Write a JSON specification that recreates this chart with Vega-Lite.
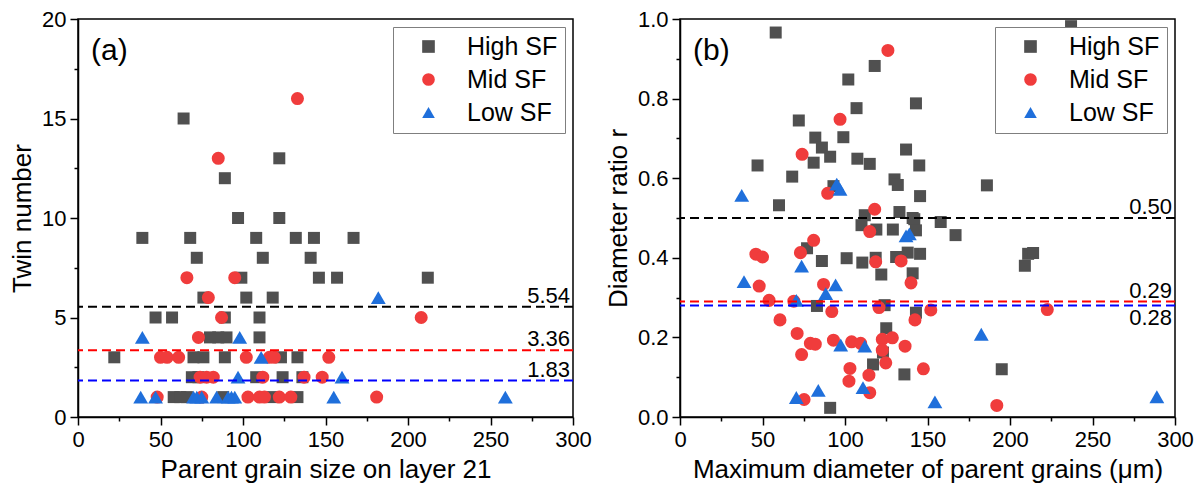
{
  "$schema": "https://vega.github.io/schema/vega-lite/v6.json",
  "padding": {"left": 8, "top": 7, "right": 5, "bottom": 0},
  "spacing": 11,
  "config": {
    "font": "Liberation Sans",
    "view": {"stroke": "black", "strokeWidth": 1.5},
    "axis": {"grid": false, "domainColor": "black", "domainWidth": 1.5, "tickColor": "black", "tickWidth": 1.5, "tickSize": 8, "labelColor": "black", "titleColor": "black", "labelFontSize": 22, "titleFontSize": 26, "titleFontWeight": "normal", "labelPadding": 4, "titlePadding": 6, "labelFont": "Liberation Sans", "titleFont": "Liberation Sans", "labelFlush": false, "labelOverlap": false},
    "legend": {"orient": "top-right", "offset": 8, "strokeColor": "#7f7f7f", "strokeWidth": 1, "fillColor": "white", "padding": 7, "labelFontSize": 25, "labelColor": "black", "labelFont": "Liberation Sans", "symbolSize": 160, "symbolOffset": 16, "labelOffset": 26, "rowPadding": 7, "symbolStrokeWidth": 0, "symbolOpacity": 1}
  },
  "datasets": {
    "a": [
      {"group": "High SF", "size": 64, "twin": 15}, {"group": "High SF", "size": 122, "twin": 13}, {"group": "High SF", "size": 89, "twin": 12}, {"group": "High SF", "size": 97, "twin": 10}, {"group": "High SF", "size": 122, "twin": 10},
      {"group": "High SF", "size": 39, "twin": 9}, {"group": "High SF", "size": 68, "twin": 9}, {"group": "High SF", "size": 108, "twin": 9}, {"group": "High SF", "size": 132, "twin": 9}, {"group": "High SF", "size": 143, "twin": 9}, {"group": "High SF", "size": 167, "twin": 9},
      {"group": "High SF", "size": 72, "twin": 8}, {"group": "High SF", "size": 112, "twin": 8}, {"group": "High SF", "size": 141, "twin": 8},
      {"group": "High SF", "size": 99, "twin": 7}, {"group": "High SF", "size": 146, "twin": 7}, {"group": "High SF", "size": 157, "twin": 7}, {"group": "High SF", "size": 212, "twin": 7},
      {"group": "High SF", "size": 76, "twin": 6}, {"group": "High SF", "size": 102, "twin": 6}, {"group": "High SF", "size": 118, "twin": 6},
      {"group": "High SF", "size": 47, "twin": 5}, {"group": "High SF", "size": 57, "twin": 5}, {"group": "High SF", "size": 89, "twin": 5}, {"group": "High SF", "size": 110, "twin": 5},
      {"group": "High SF", "size": 80, "twin": 4}, {"group": "High SF", "size": 85, "twin": 4}, {"group": "High SF", "size": 90, "twin": 4}, {"group": "High SF", "size": 110, "twin": 4},
      {"group": "High SF", "size": 22, "twin": 3}, {"group": "High SF", "size": 70, "twin": 3}, {"group": "High SF", "size": 76, "twin": 3}, {"group": "High SF", "size": 89, "twin": 3}, {"group": "High SF", "size": 123, "twin": 3}, {"group": "High SF", "size": 133, "twin": 3},
      {"group": "High SF", "size": 69, "twin": 2}, {"group": "High SF", "size": 73, "twin": 2}, {"group": "High SF", "size": 108, "twin": 2}, {"group": "High SF", "size": 124, "twin": 2}, {"group": "High SF", "size": 136, "twin": 2},
      {"group": "High SF", "size": 58, "twin": 1}, {"group": "High SF", "size": 62, "twin": 1}, {"group": "High SF", "size": 66, "twin": 1}, {"group": "High SF", "size": 88, "twin": 1}, {"group": "High SF", "size": 118, "twin": 1}, {"group": "High SF", "size": 133, "twin": 1},
      {"group": "Mid SF", "size": 133, "twin": 16}, {"group": "Mid SF", "size": 85, "twin": 13}, {"group": "Mid SF", "size": 66, "twin": 7}, {"group": "Mid SF", "size": 95, "twin": 7}, {"group": "Mid SF", "size": 79, "twin": 6}, {"group": "Mid SF", "size": 87, "twin": 5}, {"group": "Mid SF", "size": 208, "twin": 5}, {"group": "Mid SF", "size": 73, "twin": 4},
      {"group": "Mid SF", "size": 50, "twin": 3}, {"group": "Mid SF", "size": 54, "twin": 3}, {"group": "Mid SF", "size": 61, "twin": 3}, {"group": "Mid SF", "size": 102, "twin": 3}, {"group": "Mid SF", "size": 116, "twin": 3}, {"group": "Mid SF", "size": 119, "twin": 3}, {"group": "Mid SF", "size": 152, "twin": 3},
      {"group": "Mid SF", "size": 74, "twin": 2}, {"group": "Mid SF", "size": 78, "twin": 2}, {"group": "Mid SF", "size": 82, "twin": 2}, {"group": "Mid SF", "size": 112, "twin": 2}, {"group": "Mid SF", "size": 137, "twin": 2}, {"group": "Mid SF", "size": 148, "twin": 2},
      {"group": "Mid SF", "size": 48, "twin": 1}, {"group": "Mid SF", "size": 75, "twin": 1}, {"group": "Mid SF", "size": 103, "twin": 1}, {"group": "Mid SF", "size": 110, "twin": 1}, {"group": "Mid SF", "size": 113, "twin": 1}, {"group": "Mid SF", "size": 122, "twin": 1}, {"group": "Mid SF", "size": 129, "twin": 1}, {"group": "Mid SF", "size": 181, "twin": 1},
      {"group": "Low SF", "size": 182, "twin": 6}, {"group": "Low SF", "size": 39, "twin": 4}, {"group": "Low SF", "size": 98, "twin": 4}, {"group": "Low SF", "size": 111, "twin": 3}, {"group": "Low SF", "size": 97, "twin": 2}, {"group": "Low SF", "size": 160, "twin": 2},
      {"group": "Low SF", "size": 38, "twin": 1}, {"group": "Low SF", "size": 47, "twin": 1}, {"group": "Low SF", "size": 70, "twin": 1}, {"group": "Low SF", "size": 72, "twin": 1}, {"group": "Low SF", "size": 75, "twin": 1}, {"group": "Low SF", "size": 84, "twin": 1}, {"group": "Low SF", "size": 91, "twin": 1}, {"group": "Low SF", "size": 93, "twin": 1}, {"group": "Low SF", "size": 95, "twin": 1}, {"group": "Low SF", "size": 155, "twin": 1}, {"group": "Low SF", "size": 259, "twin": 1}
    ],
    "b": [
      {"group": "High SF", "dmax": 58, "ratio": 0.966}, {"group": "High SF", "dmax": 237, "ratio": 0.982}, {"group": "High SF", "dmax": 118, "ratio": 0.882}, {"group": "High SF", "dmax": 102, "ratio": 0.848}, {"group": "High SF", "dmax": 143, "ratio": 0.788}, {"group": "High SF", "dmax": 107, "ratio": 0.776}, {"group": "High SF", "dmax": 72, "ratio": 0.745}, {"group": "High SF", "dmax": 82, "ratio": 0.702}, {"group": "High SF", "dmax": 99, "ratio": 0.703}, {"group": "High SF", "dmax": 86, "ratio": 0.677}, {"group": "High SF", "dmax": 91, "ratio": 0.654}, {"group": "High SF", "dmax": 81, "ratio": 0.639}, {"group": "High SF", "dmax": 137, "ratio": 0.672}, {"group": "High SF", "dmax": 107.5, "ratio": 0.649}, {"group": "High SF", "dmax": 115, "ratio": 0.636}, {"group": "High SF", "dmax": 145, "ratio": 0.632}, {"group": "High SF", "dmax": 47, "ratio": 0.632}, {"group": "High SF", "dmax": 68, "ratio": 0.604}, {"group": "High SF", "dmax": 130, "ratio": 0.597}, {"group": "High SF", "dmax": 132, "ratio": 0.583}, {"group": "High SF", "dmax": 145.5, "ratio": 0.555}, {"group": "High SF", "dmax": 93, "ratio": 0.58}, {"group": "High SF", "dmax": 60, "ratio": 0.532}, {"group": "High SF", "dmax": 112, "ratio": 0.507}, {"group": "High SF", "dmax": 133, "ratio": 0.515}, {"group": "High SF", "dmax": 141, "ratio": 0.5}, {"group": "High SF", "dmax": 158, "ratio": 0.49}, {"group": "High SF", "dmax": 186, "ratio": 0.582}, {"group": "High SF", "dmax": 142, "ratio": 0.497}, {"group": "High SF", "dmax": 110, "ratio": 0.482}, {"group": "High SF", "dmax": 119, "ratio": 0.471}, {"group": "High SF", "dmax": 129, "ratio": 0.471}, {"group": "High SF", "dmax": 143, "ratio": 0.469}, {"group": "High SF", "dmax": 167, "ratio": 0.457}, {"group": "High SF", "dmax": 77, "ratio": 0.424}, {"group": "High SF", "dmax": 86, "ratio": 0.392}, {"group": "High SF", "dmax": 101, "ratio": 0.399}, {"group": "High SF", "dmax": 110.5, "ratio": 0.388}, {"group": "High SF", "dmax": 118.6, "ratio": 0.4}, {"group": "High SF", "dmax": 131, "ratio": 0.402}, {"group": "High SF", "dmax": 138, "ratio": 0.413}, {"group": "High SF", "dmax": 145.5, "ratio": 0.41}, {"group": "High SF", "dmax": 122, "ratio": 0.358}, {"group": "High SF", "dmax": 141, "ratio": 0.361}, {"group": "High SF", "dmax": 209, "ratio": 0.38}, {"group": "High SF", "dmax": 211, "ratio": 0.41}, {"group": "High SF", "dmax": 214, "ratio": 0.412}, {"group": "High SF", "dmax": 83, "ratio": 0.279}, {"group": "High SF", "dmax": 124, "ratio": 0.281}, {"group": "High SF", "dmax": 143, "ratio": 0.262}, {"group": "High SF", "dmax": 125, "ratio": 0.223}, {"group": "High SF", "dmax": 123, "ratio": 0.162}, {"group": "High SF", "dmax": 117, "ratio": 0.132}, {"group": "High SF", "dmax": 136, "ratio": 0.107}, {"group": "High SF", "dmax": 195, "ratio": 0.12}, {"group": "High SF", "dmax": 91, "ratio": 0.023},
      {"group": "Mid SF", "dmax": 126, "ratio": 0.921}, {"group": "Mid SF", "dmax": 97, "ratio": 0.748}, {"group": "Mid SF", "dmax": 74, "ratio": 0.66}, {"group": "Mid SF", "dmax": 89.5, "ratio": 0.562}, {"group": "Mid SF", "dmax": 118, "ratio": 0.522}, {"group": "Mid SF", "dmax": 115, "ratio": 0.466}, {"group": "Mid SF", "dmax": 81, "ratio": 0.444}, {"group": "Mid SF", "dmax": 73, "ratio": 0.413}, {"group": "Mid SF", "dmax": 46, "ratio": 0.409}, {"group": "Mid SF", "dmax": 50, "ratio": 0.402}, {"group": "Mid SF", "dmax": 118.6, "ratio": 0.39}, {"group": "Mid SF", "dmax": 134, "ratio": 0.392}, {"group": "Mid SF", "dmax": 140, "ratio": 0.337}, {"group": "Mid SF", "dmax": 48, "ratio": 0.329}, {"group": "Mid SF", "dmax": 87, "ratio": 0.333}, {"group": "Mid SF", "dmax": 54, "ratio": 0.293}, {"group": "Mid SF", "dmax": 69, "ratio": 0.291}, {"group": "Mid SF", "dmax": 92, "ratio": 0.265}, {"group": "Mid SF", "dmax": 120.6, "ratio": 0.275}, {"group": "Mid SF", "dmax": 142.4, "ratio": 0.244}, {"group": "Mid SF", "dmax": 152, "ratio": 0.269}, {"group": "Mid SF", "dmax": 222.6, "ratio": 0.27}, {"group": "Mid SF", "dmax": 60.6, "ratio": 0.244}, {"group": "Mid SF", "dmax": 71, "ratio": 0.21}, {"group": "Mid SF", "dmax": 93, "ratio": 0.193}, {"group": "Mid SF", "dmax": 79, "ratio": 0.185}, {"group": "Mid SF", "dmax": 82, "ratio": 0.183}, {"group": "Mid SF", "dmax": 104, "ratio": 0.189}, {"group": "Mid SF", "dmax": 109.5, "ratio": 0.185}, {"group": "Mid SF", "dmax": 122.6, "ratio": 0.195}, {"group": "Mid SF", "dmax": 128.7, "ratio": 0.199}, {"group": "Mid SF", "dmax": 122.6, "ratio": 0.168}, {"group": "Mid SF", "dmax": 124.7, "ratio": 0.136}, {"group": "Mid SF", "dmax": 136.4, "ratio": 0.178}, {"group": "Mid SF", "dmax": 73.7, "ratio": 0.157}, {"group": "Mid SF", "dmax": 103, "ratio": 0.122}, {"group": "Mid SF", "dmax": 114.5, "ratio": 0.105}, {"group": "Mid SF", "dmax": 147.5, "ratio": 0.121}, {"group": "Mid SF", "dmax": 102.4, "ratio": 0.09}, {"group": "Mid SF", "dmax": 115, "ratio": 0.061}, {"group": "Mid SF", "dmax": 75.2, "ratio": 0.044}, {"group": "Mid SF", "dmax": 192, "ratio": 0.029},
      {"group": "Low SF", "dmax": 37.4, "ratio": 0.557}, {"group": "Low SF", "dmax": 95, "ratio": 0.585}, {"group": "Low SF", "dmax": 97, "ratio": 0.572}, {"group": "Low SF", "dmax": 137, "ratio": 0.455}, {"group": "Low SF", "dmax": 139, "ratio": 0.46}, {"group": "Low SF", "dmax": 73.7, "ratio": 0.379}, {"group": "Low SF", "dmax": 38.8, "ratio": 0.34}, {"group": "Low SF", "dmax": 94.3, "ratio": 0.332}, {"group": "Low SF", "dmax": 88.3, "ratio": 0.31}, {"group": "Low SF", "dmax": 70.5, "ratio": 0.293}, {"group": "Low SF", "dmax": 97.4, "ratio": 0.181}, {"group": "Low SF", "dmax": 112, "ratio": 0.178}, {"group": "Low SF", "dmax": 110.9, "ratio": 0.074}, {"group": "Low SF", "dmax": 83.8, "ratio": 0.067}, {"group": "Low SF", "dmax": 70.5, "ratio": 0.049}, {"group": "Low SF", "dmax": 154.5, "ratio": 0.038}, {"group": "Low SF", "dmax": 182.6, "ratio": 0.208}, {"group": "Low SF", "dmax": 289, "ratio": 0.051}
    ],
    "ma": [{"group": "High SF", "mean": 5.54}, {"group": "Mid SF", "mean": 3.36}, {"group": "Low SF", "mean": 1.83}],
    "mb": [{"group": "High SF", "mean": 0.5}, {"group": "Mid SF", "mean": 0.29}, {"group": "Low SF", "mean": 0.28}]
  },
  "hconcat": [
    {
      "width": 495, "height": 398,
      "title": {"text": "(a)", "anchor": "start", "frame": "group", "offset": -58, "dx": 13, "fontSize": 30, "fontWeight": "normal", "color": "black", "font": "Liberation Sans"},
      "layer": [
        {
          "data": {"name": "a"},
          "mark": {"type": "point", "filled": true, "opacity": 1, "strokeWidth": 0},
          "encoding": {
            "x": {"field": "size", "type": "quantitative", "scale": {"domain": [0, 300], "nice": false}, "axis": {"values": [0, 50, 100, 150, 200, 250, 300], "title": "Parent grain size on layer 21"}},
            "y": {"field": "twin", "type": "quantitative", "scale": {"domain": [0, 20], "nice": false}, "axis": {"values": [0, 5, 10, 15, 20], "title": "Twin number"}},
            "color": {"field": "group", "type": "nominal", "scale": {"domain": ["High SF", "Mid SF", "Low SF"], "range": ["#505050", "#f03c3c", "#1f6fdb"]}, "legend": {"title": null}},
            "shape": {"field": "group", "type": "nominal", "scale": {"domain": ["High SF", "Mid SF", "Low SF"], "range": ["square", "circle", "triangle-up"]}, "legend": {"title": null}},
            "size": {"condition": [{"test": "datum.group === 'Low SF'", "value": 220}, {"test": "datum.group === 'Mid SF'", "value": 170}], "value": 144}
          }
        },
        {
          "data": {"name": "ma"},
          "mark": {"type": "rule", "strokeDash": [9, 5], "strokeWidth": 2},
          "encoding": {
            "y": {"field": "mean", "type": "quantitative", "scale": {"domain": [0, 20], "nice": false}, "axis": {"values": [2.5, 7.5, 12.5, 17.5], "labels": false, "tickSize": 4, "domain": false, "title": null, "orient": "left"}},
            "stroke": {"field": "group", "type": "nominal", "scale": {"domain": ["High SF", "Mid SF", "Low SF"], "range": ["#000000", "#ff0000", "#0000ff"]}, "legend": null}
          }
        },
        {
          "data": {"name": "ma"},
          "mark": {"type": "text", "align": "right", "baseline": "alphabetic", "dx": -3, "dy": -4, "fontSize": 22, "color": "black"},
          "encoding": {
            "x": {"datum": 300, "type": "quantitative", "scale": {"domain": [0, 300], "nice": false}, "axis": {"values": [25, 75, 125, 175, 225, 275], "labels": false, "tickSize": 4, "domain": false, "title": null, "orient": "bottom"}},
            "y": {"field": "mean", "type": "quantitative", "scale": {"domain": [0, 20], "nice": false}, "axis": null},
            "text": {"field": "mean", "type": "quantitative", "format": ".2f"}
          }
        }
      ],
      "resolve": {"axis": {"x": "independent", "y": "independent"}}
    },
    {
      "width": 495, "height": 398,
      "title": {"text": "(b)", "anchor": "start", "frame": "group", "offset": -58, "dx": 13, "fontSize": 30, "fontWeight": "normal", "color": "black", "font": "Liberation Sans"},
      "layer": [
        {
          "data": {"name": "b"},
          "mark": {"type": "point", "filled": true, "opacity": 1, "strokeWidth": 0},
          "encoding": {
            "x": {"field": "dmax", "type": "quantitative", "scale": {"domain": [0, 300], "nice": false}, "axis": {"values": [0, 50, 100, 150, 200, 250, 300], "title": "Maximum diameter of parent grains (μm)"}},
            "y": {"field": "ratio", "type": "quantitative", "scale": {"domain": [0, 1], "nice": false}, "axis": {"values": [0, 0.2, 0.4, 0.6, 0.8, 1.0], "format": ".1f", "title": "Diameter ratio r"}},
            "color": {"field": "group", "type": "nominal", "scale": {"domain": ["High SF", "Mid SF", "Low SF"], "range": ["#505050", "#f03c3c", "#1f6fdb"]}, "legend": {"title": null}},
            "shape": {"field": "group", "type": "nominal", "scale": {"domain": ["High SF", "Mid SF", "Low SF"], "range": ["square", "circle", "triangle-up"]}, "legend": {"title": null}},
            "size": {"condition": [{"test": "datum.group === 'Low SF'", "value": 220}, {"test": "datum.group === 'Mid SF'", "value": 170}], "value": 144}
          }
        },
        {
          "data": {"name": "mb"},
          "mark": {"type": "rule", "strokeDash": [9, 5], "strokeWidth": 2},
          "encoding": {
            "y": {"field": "mean", "type": "quantitative", "scale": {"domain": [0, 1], "nice": false}, "axis": {"values": [0.1, 0.3, 0.5, 0.7, 0.9], "labels": false, "tickSize": 4, "domain": false, "title": null, "orient": "left"}},
            "stroke": {"field": "group", "type": "nominal", "scale": {"domain": ["High SF", "Mid SF", "Low SF"], "range": ["#000000", "#ff0000", "#0000ff"]}, "legend": null}
          }
        },
        {
          "data": {"name": "mb"},
          "transform": [{"filter": "datum.group !== 'Low SF'"}],
          "mark": {"type": "text", "align": "right", "baseline": "alphabetic", "dx": -3, "dy": -4, "fontSize": 22, "color": "black"},
          "encoding": {
            "x": {"datum": 300, "type": "quantitative", "scale": {"domain": [0, 300], "nice": false}, "axis": {"values": [25, 75, 125, 175, 225, 275], "labels": false, "tickSize": 4, "domain": false, "title": null, "orient": "bottom"}},
            "y": {"field": "mean", "type": "quantitative", "scale": {"domain": [0, 1], "nice": false}, "axis": null},
            "text": {"field": "mean", "type": "quantitative", "format": ".2f"}
          }
        },
        {
          "data": {"name": "mb"},
          "transform": [{"filter": "datum.group === 'Low SF'"}],
          "mark": {"type": "text", "align": "right", "baseline": "top", "dx": -3, "dy": 2, "fontSize": 22, "color": "black"},
          "encoding": {
            "x": {"datum": 300, "type": "quantitative", "scale": {"domain": [0, 300], "nice": false}, "axis": null},
            "y": {"field": "mean", "type": "quantitative", "scale": {"domain": [0, 1], "nice": false}, "axis": null},
            "text": {"field": "mean", "type": "quantitative", "format": ".2f"}
          }
        }
      ],
      "resolve": {"axis": {"x": "independent", "y": "independent"}}
    }
  ],
  "resolve": {"scale": {"color": "independent", "shape": "independent", "stroke": "independent"}, "legend": {"color": "independent", "shape": "independent"}}
}
